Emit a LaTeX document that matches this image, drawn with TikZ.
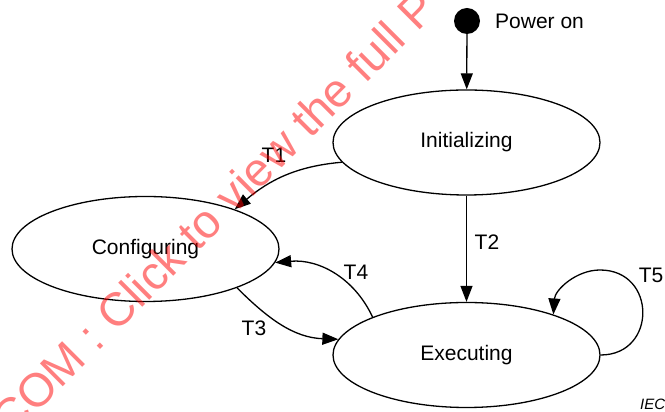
\documentclass[tikz,border=0pt]{standalone}
\usepackage{fontspec}
\setmainfont{Liberation Sans}
\usetikzlibrary{shapes.geometric,arrows.meta}
\begin{document}
\begin{tikzpicture}[x=1pt,y=1pt,
  state/.style={draw, ellipse, line width=1.3pt, minimum width=267pt,
    minimum height=105pt, inner sep=0pt, font=\fontsize{21}{25}\selectfont},
  trans/.style={draw, line width=1.3pt, -{Triangle[length=16pt,width=12pt]}},
  tlabel/.style={font=\fontsize{21}{25}\selectfont, inner sep=0pt},
  initdot/.style={circle, fill=black, minimum size=26pt, inner sep=0pt},
  stamp/.style={rotate=45, anchor=base west, inner sep=0pt, text=red,
    opacity=0.5, font=\fontsize{47}{50}\selectfont}
]
\useasboundingbox (0,0) rectangle (665,412);

% states
\node[initdot] (start) at (467,391) {};
\node[tlabel, anchor=west] (poweron) at (495,391) {Power on};
\node[state] (init) at (466.5,269.5) {Initializing};
\node[state] (conf) at (145.5,163) {Configuring};
\node[state] (exec) at (466.5,57) {Executing};
\coordinate (t5top) at (600,142);

% transitions
\draw[trans] (start) -- (init);
\draw[trans] (init) -- (exec);
\draw[trans] (init.189) to[out=185,in=40] (conf.24);
\draw[trans] (exec.158) to[out=115,in=5] (conf.354);
\draw[trans] (conf.337) to[out=-45,in=178] (exec.173);
\draw[trans] (exec.east) .. controls (657,57) and (657,142) .. (t5top)
  .. controls (576,142) and (555,122) .. (exec.25);

% transition labels
\node[tlabel] (t1) at (274,257) {T1};
\node[tlabel] (t2) at (487,170) {T2};
\node[tlabel] (t3) at (254,84) {T3};
\node[tlabel] (t4) at (356,140) {T4};
\node[tlabel] (t5) at (651,137) {T5};

\node[font=\fontsize{15}{18}\selectfont\itshape, anchor=base west, inner sep=0pt]
  (iec) at (640,2) {IEC};

% overlay stamp
\begin{scope}
  \clip (0,0) rectangle (665,412);
  \node[stamp] (wm) at (11,-27) {COM : Click to view the full P};
\end{scope}
\end{tikzpicture}
\end{document}
